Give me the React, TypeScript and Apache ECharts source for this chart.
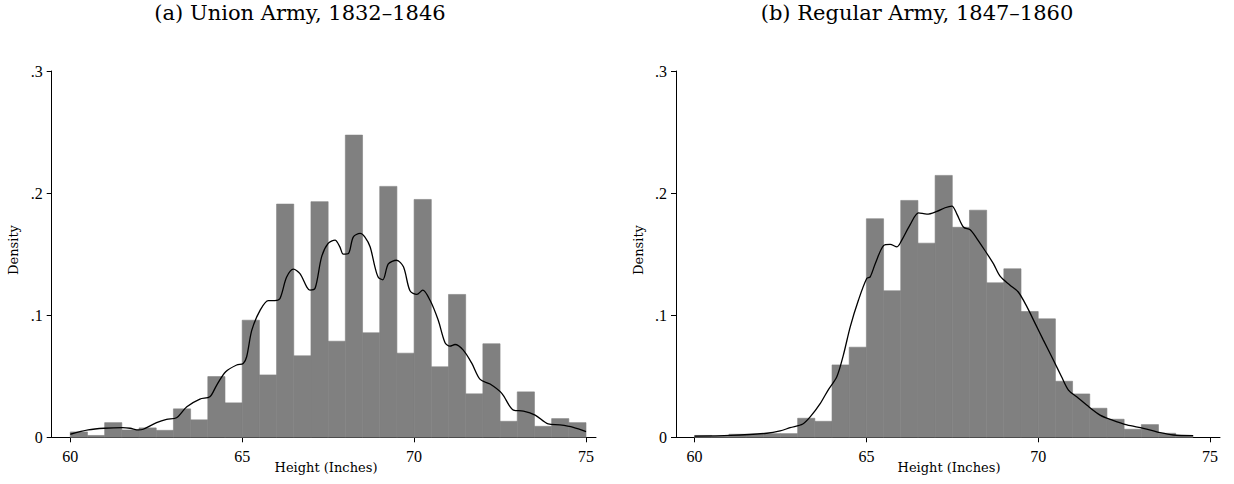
import React, { useEffect, useRef } from "react";
import * as echarts from "echarts";

// ---- Data ----
const BIN_WIDTH = 0.5;

const LEFT_BIN_STARTS = [60, 60.5, 61, 61.5, 62, 62.5, 63, 63.5, 64, 64.5, 65, 65.5, 66, 66.5, 67, 67.5, 68, 68.5, 69, 69.5, 70, 70.5, 71, 71.5, 72, 72.5, 73, 73.5, 74, 74.5];
const LEFT_DENSITY = [0.0044, 0.0015, 0.012, 0.006, 0.0077, 0.0057, 0.0233, 0.0143, 0.0497, 0.0282, 0.0959, 0.0511, 0.191, 0.0667, 0.193, 0.0787, 0.2475, 0.0856, 0.2055, 0.0689, 0.1948, 0.0577, 0.117, 0.0356, 0.0766, 0.0131, 0.0372, 0.009, 0.0153, 0.012];

const RIGHT_BIN_STARTS = [60, 60.5, 61, 61.5, 62, 62.5, 63, 63.5, 64, 64.5, 65, 65.5, 66, 66.5, 67, 67.5, 68, 68.5, 69, 69.5, 70, 70.5, 71, 71.5, 72, 72.5, 73, 73.5, 74];
const RIGHT_DENSITY = [0.0015, 0.0008, 0.0025, 0.0025, 0.003, 0.003, 0.0156, 0.0131, 0.0593, 0.0738, 0.179, 0.12, 0.194, 0.159, 0.2145, 0.172, 0.186, 0.1265, 0.138, 0.103, 0.097, 0.0459, 0.0355, 0.0238, 0.0148, 0.0066, 0.0104, 0.0033, 0.0014];

const LEFT_KDE_X = [60.0, 60.52, 60.99, 61.52, 61.74, 61.99, 62.12, 62.51, 62.8, 63.09, 63.39, 63.77, 64.06, 64.26, 64.52, 64.84, 65.03, 65.13, 65.28, 65.52, 65.76, 65.95, 66.1, 66.29, 66.49, 66.68, 66.88, 66.97, 67.12, 67.31, 67.5, 67.7, 67.84, 67.94, 68.09, 68.23, 68.43, 68.57, 68.72, 68.86, 68.96, 69.09, 69.25, 69.49, 69.69, 69.88, 70.08, 70.25, 70.46, 70.7, 70.9, 71.04, 71.19, 71.43, 71.68, 71.92, 72.21, 72.55, 72.89, 73.18, 73.52, 73.9, 74.24, 74.63, 75.0];
const LEFT_KDE_Y = [0.0025, 0.006, 0.0074, 0.0079, 0.0074, 0.006, 0.0066, 0.012, 0.0147, 0.016, 0.025, 0.0313, 0.0332, 0.0428, 0.0537, 0.0592, 0.0605, 0.066, 0.0878, 0.104, 0.112, 0.112, 0.1137, 0.131, 0.1377, 0.134, 0.123, 0.1205, 0.122, 0.1478, 0.1588, 0.1615, 0.156, 0.15, 0.1505, 0.164, 0.167, 0.164, 0.156, 0.1396, 0.131, 0.129, 0.142, 0.145, 0.1396, 0.12, 0.117, 0.1205, 0.1124, 0.096, 0.0774, 0.0747, 0.076, 0.0714, 0.0605, 0.0474, 0.0436, 0.036, 0.0223, 0.0215, 0.0182, 0.0109, 0.0101, 0.0082, 0.0046];

const RIGHT_KDE_X = [60.0, 61.04, 62.1, 62.49, 62.78, 63.15, 63.37, 63.66, 63.9, 64.14, 64.33, 64.53, 64.77, 65.01, 65.11, 65.26, 65.5, 65.69, 65.89, 66.03, 66.27, 66.52, 66.76, 67.05, 67.29, 67.49, 67.63, 67.83, 68.02, 68.21, 68.45, 68.7, 68.89, 69.18, 69.42, 69.67, 69.91, 70.15, 70.44, 70.68, 70.88, 71.12, 71.41, 71.8, 72.14, 72.58, 73.06, 73.55, 73.93, 74.51];
const RIGHT_KDE_Y = [0.001, 0.0016, 0.0033, 0.0052, 0.0079, 0.0109, 0.0169, 0.0278, 0.0393, 0.0496, 0.0673, 0.0905, 0.1124, 0.13, 0.1314, 0.1424, 0.157, 0.158, 0.156, 0.1615, 0.174, 0.1838, 0.1827, 0.185, 0.188, 0.1893, 0.183, 0.172, 0.17, 0.163, 0.153, 0.142, 0.132, 0.1246, 0.119, 0.107, 0.0933, 0.0796, 0.0633, 0.0496, 0.0387, 0.0332, 0.0264, 0.0182, 0.0142, 0.0101, 0.0074, 0.0038, 0.0019, 0.0013];

const X_TICKS = [60, 65, 70, 75];
const Y_TICKS = [0, 0.1, 0.2, 0.3];
const Y_TICK_LABELS = ["0", ".1", ".2", ".3"];

const TITLES = ["(a) Union Army, 1832\u20131846", "(b) Regular Army, 1847\u20131860"];
const X_TITLE = "Height (Inches)";
const Y_TITLE = "Density";

// ---- Style / layout ----
const W = 1234;
const H = 484;
const TICK_FONT = "'Liberation Serif', 'DejaVu Serif', serif";
const TEXT_FONT = "'DejaVu Serif', 'Liberation Serif', serif";
const BAR_COLOR = "#808080";
const GRIDS = [
  { left: 51.7, right: W - 596, top: 71, bottom: H - 437.3 },
  { left: 676, right: W - 1220, top: 71, bottom: H - 437.3 },
];
const X_MIN = 59.46;
const X_MAX = 75.29;

function histData(starts: number[], dens: number[]) {
  return starts.map((s, i) => [s, s + BIN_WIDTH, dens[i]]);
}

function kdeData(xs: number[], ys: number[]) {
  return xs.map((x, i) => [x, ys[i]]);
}

const renderBar = (params: any, api: any) => {
  const x0 = api.value(0);
  const x1 = api.value(1);
  const v = api.value(2);
  const p0 = api.coord([x0, v]);
  const p1 = api.coord([x1, 0]);
  return {
    type: "rect",
    shape: { x: p0[0], y: p0[1], width: p1[0] - p0[0], height: p1[1] - p0[1] },
    style: { fill: BAR_COLOR, stroke: BAR_COLOR, lineWidth: 0.6 },
  };
};

export default function App() {
  const ref = useRef<HTMLDivElement>(null);
  useEffect(() => {
    if (!ref.current) return;
    const chart = echarts.init(ref.current, null, { renderer: "svg", width: W, height: H });

    const xAxis = [0, 1].map((i) => ({
      type: "value",
      gridIndex: i,
      min: X_MIN,
      max: X_MAX,
      splitLine: { show: false },
      axisLine: { show: true, onZero: false, lineStyle: { color: "#000", width: 1 } },
      axisTick: { show: true, length: 5, lineStyle: { color: "#000" }, customValues: X_TICKS },
      axisLabel: {
        show: true,
        customValues: X_TICKS,
        formatter: (v: number) => String(Math.round(v)),
        fontFamily: TICK_FONT,
        fontSize: 16,
        color: "#000",
        margin: 11,
      },
    }));

    const yAxis = [0, 1].map((i) => ({
      type: "value",
      gridIndex: i,
      min: 0,
      max: 0.3,
      interval: 0.1,
      splitLine: { show: false },
      axisLine: { show: true, lineStyle: { color: "#000", width: 1 } },
      axisTick: { show: true, length: 5, lineStyle: { color: "#000" } },
      axisLabel: {
        show: true,
        formatter: (v: number) => {
          const idx = Y_TICKS.findIndex((t) => Math.abs(t - v) < 1e-6);
          return idx >= 0 ? Y_TICK_LABELS[idx] : "";
        },
        fontFamily: TICK_FONT,
        fontSize: 16,
        color: "#000",
        margin: 9,
      },
    }));

    const series: any[] = [
      {
        type: "custom",
        xAxisIndex: 0,
        yAxisIndex: 0,
        renderItem: renderBar,
        encode: { x: [0, 1], y: 2 },
        data: histData(LEFT_BIN_STARTS, LEFT_DENSITY),
        silent: true,
      },
      {
        type: "line",
        xAxisIndex: 0,
        yAxisIndex: 0,
        data: kdeData(LEFT_KDE_X, LEFT_KDE_Y),
        showSymbol: false,
        smooth: 0.3,
        lineStyle: { color: "#000", width: 1.3 },
        silent: true,
      },
      {
        type: "custom",
        xAxisIndex: 1,
        yAxisIndex: 1,
        renderItem: renderBar,
        encode: { x: [0, 1], y: 2 },
        data: histData(RIGHT_BIN_STARTS, RIGHT_DENSITY),
        silent: true,
      },
      {
        type: "line",
        xAxisIndex: 1,
        yAxisIndex: 1,
        data: kdeData(RIGHT_KDE_X, RIGHT_KDE_Y),
        showSymbol: false,
        smooth: 0.3,
        lineStyle: { color: "#000", width: 1.3 },
        silent: true,
      },
    ];

    const titleX = [300, 917];
    const yTitleX = [13.7, 638];
    const xTitleX = [326, 949];

    const graphic: any[] = [];
    [0, 1].forEach((i) => {
      graphic.push({
        type: "text",
        x: titleX[i],
        y: 12.5,
        style: {
          text: TITLES[i],
          font: `21px ${TEXT_FONT}`,
          fill: "#000",
          align: "center",
          verticalAlign: "middle",
        },
      });
      graphic.push({
        type: "text",
        x: xTitleX[i],
        y: 467,
        style: {
          text: X_TITLE,
          font: `13px ${TEXT_FONT}`,
          fill: "#000",
          align: "center",
          verticalAlign: "middle",
        },
      });
      graphic.push({
        type: "text",
        x: yTitleX[i],
        y: 250,
        rotation: Math.PI / 2,
        style: {
          text: Y_TITLE,
          font: `13px ${TEXT_FONT}`,
          fill: "#000",
          align: "center",
          verticalAlign: "middle",
        },
      });
    });

    chart.setOption({
      animation: false,
      backgroundColor: "#fff",
      grid: GRIDS.map((g) => ({ ...g, containLabel: false })),
      xAxis,
      yAxis,
      series,
      graphic,
    });

    return () => chart.dispose();
  }, []);

  return (
    <div
      ref={ref}
      style={{ position: "absolute", left: 0, top: 0, width: W, height: H }}
    />
  );
}
